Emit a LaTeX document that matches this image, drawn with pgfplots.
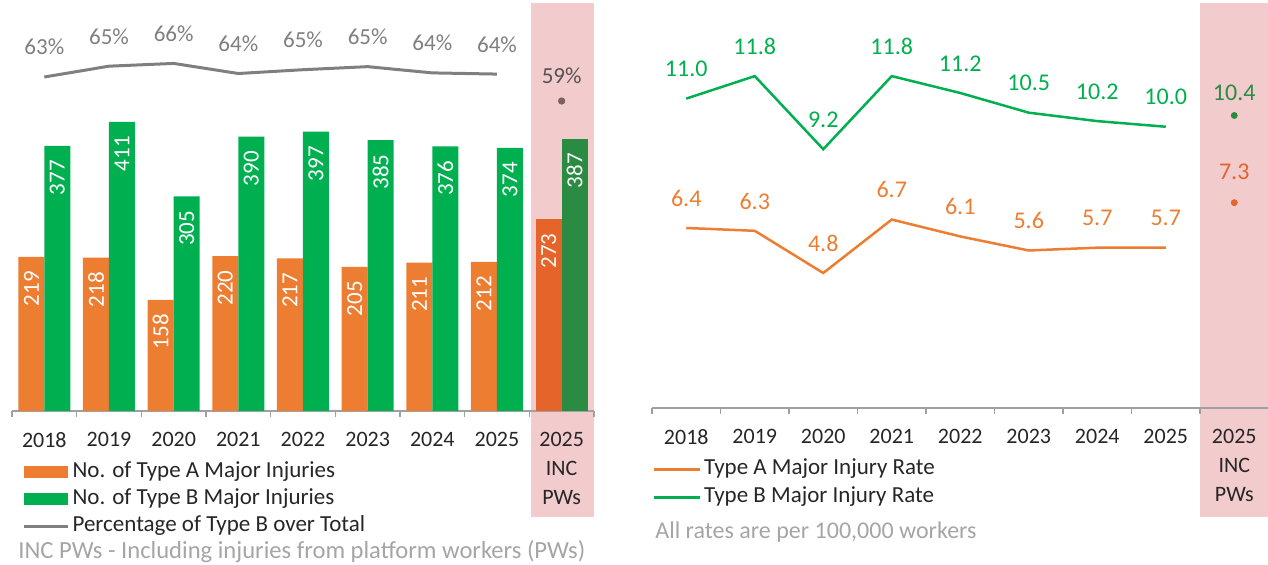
\documentclass[border=0pt]{standalone}
\usepackage{fontspec}
\setmainfont{Carlito}
\usepackage{pgfplots}
\pgfplotsset{compat=1.18}
\pgfplotsset{/pgf/number format/assume math mode=true}

\definecolor{TypeA}{HTML}{ED7D31}
\definecolor{TypeB}{HTML}{00B050}
\definecolor{TypeAInc}{HTML}{E4642A}
\definecolor{TypeBInc}{HTML}{2A8C42}
\definecolor{IncPink}{HTML}{F2CBCD}
\definecolor{PctGrey}{HTML}{7F7F7F}
\definecolor{PctDot}{HTML}{7A6263}
\definecolor{AxisGrey}{HTML}{A0A0A0}
\definecolor{NoteGrey}{HTML}{A5A5A5}
\definecolor{LabelInk}{HTML}{262626}

\newcommand\tickfont{\fontsize{11}{14.5}\selectfont}
\newcommand\labfont{\fontsize{11.5}{14}\selectfont}
\newcommand\ratefont{\fontsize{12}{14}\selectfont}

\pgfplotsset{
  injury axis/.style={
    scale only axis,
    anchor=south west,
    xmin=-0.5, xmax=8.5,
    axis x line*=bottom, axis y line=none,
    xtick={0,...,8},
    xticklabels={2018,2019,2020,2021,2022,2023,2024,2025,{2025\\INC\\PWs}},
    major tick length=0pt,
    minor xtick={-0.5,0.5,...,8.5},
    minor tick length=3pt,
    tick align=outside,
    x axis line style={AxisGrey, line width=0.6pt},
    every minor tick/.append style={AxisGrey, line width=0.6pt},
    x tick label style={align=center, font=\tickfont, text=LabelInk, yshift=-7.2pt},
    legend cell align=left,
    legend style={draw=none, fill=none, inner sep=0pt, font=\labfont, row sep=3pt,
      column sep=0pt,
      nodes={inner xsep=1.6pt, inner ysep=0pt, text height=8pt, text depth=2.5pt, text=LabelInk}},
    clip=false,
  },
}

\begin{document}
\begin{tikzpicture}
\useasboundingbox (0pt,0pt) rectangle (634pt,282.5pt);
\fill[IncPink] (265.5pt,24pt) rectangle (297pt,281pt);
\fill[IncPink] (600pt,24pt) rectangle (634pt,281pt);

% left: counts
\begin{axis}[injury axis, at={(6pt,77pt)}, width=291pt, height=204pt,
  ymin=0, ymax=580,
  ybar, bar width=13pt,
  nodes near coords,
  every node near coord/.append style={rotate=90, anchor=east, font=\labfont,
    text=white, inner xsep=7pt, inner ysep=0pt},
  legend style={at={(axis description cs:0.0172,-0.1237)}, anchor=north west},
]
\addplot[fill=TypeA, draw=none, bar shift=-6.5pt,
  legend image code/.code={\fill[TypeA] (0pt,-3pt) rectangle (22pt,3pt);}]
  coordinates {(0,219) (1,218) (2,158) (3,220) (4,217) (5,205) (6,211) (7,212)};
\addlegendentry{No. of Type A Major Injuries}
\addplot[fill=TypeB, draw=none, bar shift=6.5pt,
  legend image code/.code={\fill[TypeB] (0pt,-3pt) rectangle (22pt,3pt);}]
  coordinates {(0,377) (1,411) (2,305) (3,390) (4,397) (5,385) (6,376) (7,374)};
\addlegendentry{No. of Type B Major Injuries}
\addlegendimage{legend image code/.code={\draw[PctGrey, line width=1.5pt] (0pt,0pt) -- (22pt,0pt);}}
\addlegendentry{Percentage of Type B over Total}
\addplot[fill=TypeAInc, draw=none, bar shift=-6.5pt, forget plot,
  every node near coord/.append style={text=white!82!IncPink}]
  coordinates {(8,273)};
\addplot[fill=TypeBInc, draw=none, bar shift=6.5pt, forget plot,
  every node near coord/.append style={text=white!82!IncPink}]
  coordinates {(8,387)};
\end{axis}

% left: share of type B
\begin{axis}[hide axis, scale only axis, anchor=south west, at={(6pt,77pt)},
  width=291pt, height=204pt, xmin=-0.5, xmax=8.5, ymin=-1, ymax=77.5, clip=false,
  nodes near coords={\pgfmathprintnumber[fixed,precision=0]{\pgfplotspointmeta}\%},
  every node near coord/.append style={font=\labfont, text=PctGrey, anchor=base,
    inner sep=0pt, yshift=11pt},
]
\addplot[PctGrey, line width=1.5pt, mark=none]
  coordinates {(0,63.26) (1,65.34) (2,65.87) (3,63.93) (4,64.66) (5,65.25) (6,64.05) (7,63.82)};
\addplot[only marks, mark=*, mark size=1.6pt, color=PctDot,
  every node near coord/.append style={yshift=-2pt, text=PctGrey!85!IncPink!60!black}]
  coordinates {(8,58.64)};
\end{axis}

% right: rates
\begin{axis}[injury axis, at={(326pt,78.5pt)}, width=308.25pt, height=202.5pt,
  ymin=0, ymax=14.4,
  legend style={at={(axis description cs:0,-0.1247)}, anchor=north west, row sep=3.5pt},
  nodes near coords={\pgfmathprintnumber[fixed,fixed zerofill,precision=1]{\pgfplotspointmeta}},
  every node near coord/.append style={font=\ratefont, anchor=base, inner sep=0pt, yshift=10.9pt},
]
\addplot[TypeA, line width=1.25pt, mark=none,
  every node near coord/.append style={text=TypeA},
  legend image code/.code={\draw[TypeA, line width=1.25pt] (0pt,0pt) -- (23pt,0pt);}]
  coordinates {(0,6.4) (1,6.3) (2,4.8) (3,6.7) (4,6.1) (5,5.6) (6,5.7) (7,5.7)};
\addlegendentry{Type A Major Injury Rate}
\addplot[TypeB, line width=1.25pt, mark=none,
  every node near coord/.append style={text=TypeB},
  legend image code/.code={\draw[TypeB, line width=1.25pt] (0pt,0pt) -- (23pt,0pt);}]
  coordinates {(0,11.0) (1,11.8) (2,9.2) (3,11.8) (4,11.2) (5,10.5) (6,10.2) (7,10.0)};
\addlegendentry{Type B Major Injury Rate}
\addplot[only marks, mark=*, mark size=1.5pt, color=TypeAInc, forget plot,
  every node near coord/.append style={text=TypeAInc, yshift=0.5pt}]
  coordinates {(8,7.3)};
\addplot[only marks, mark=*, mark size=1.5pt, color=TypeBInc, forget plot,
  every node near coord/.append style={text=TypeBInc, yshift=-3.5pt}]
  coordinates {(8,10.4)};
\end{axis}

\node[anchor=west, inner sep=0pt, font=\fontsize{12.3}{14}\selectfont, text=NoteGrey] at (9pt,6.5pt)
  {INC PWs - Including injuries from platform workers (PWs)};
\node[anchor=west, inner sep=0pt, font=\fontsize{12}{14}\selectfont, text=NoteGrey] at (327.5pt,16.5pt)
  {All rates are per 100,000 workers};
\end{tikzpicture}
\end{document}
